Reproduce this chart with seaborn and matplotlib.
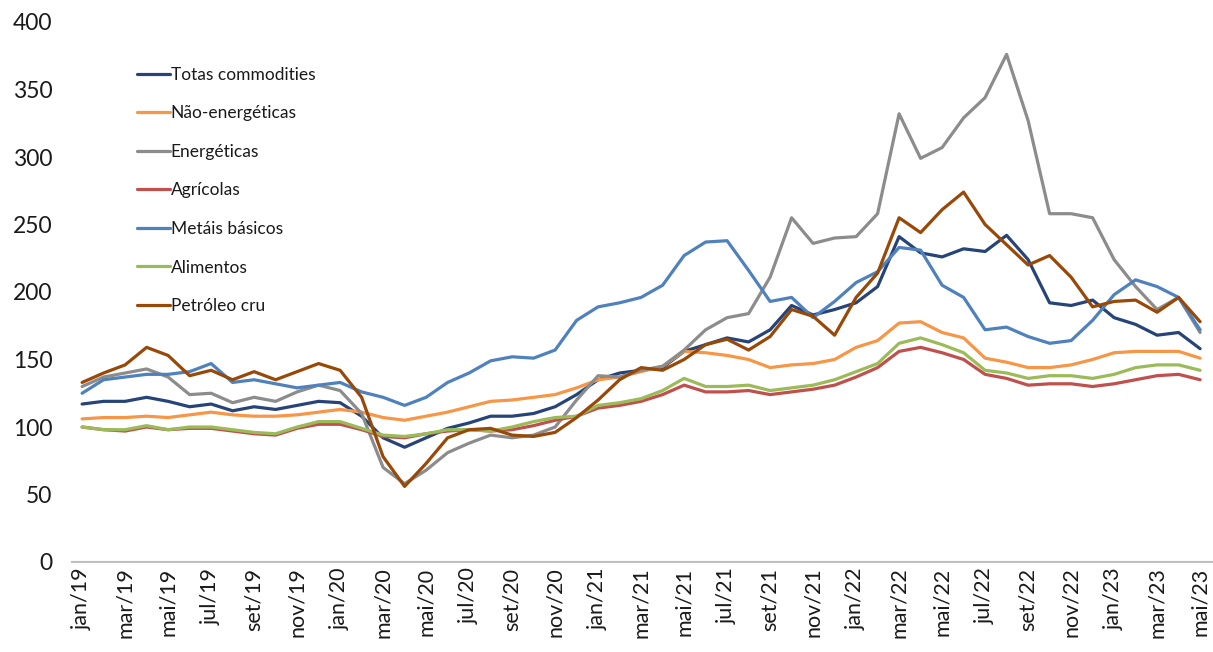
import numpy as np
import pandas as pd
import matplotlib
matplotlib.use("Agg")
import matplotlib.pyplot as plt
import seaborn as sns

# -- Months jan/19 .. mai/23
meses = ["jan", "fev", "mar", "abr", "mai", "jun", "jul", "ago", "set", "out", "nov", "dez"]
datas = [f"{meses[i % 12]}/{19 + i // 12}" for i in range(53)]

totas = [117, 119, 119, 122, 119, 115, 117, 112, 115, 113, 116, 119, 118, 108, 92, 85, 92, 99, 103, 108,
         108, 110, 115, 124, 135, 140, 142, 144, 156, 161, 166, 163, 172, 190, 183, 187, 192, 204, 241, 229,
         226, 232, 230, 242, 224, 192, 190, 194, 181, 176, 168, 170, 158]
nao_energeticas = [106, 107, 107, 108, 107, 109, 111, 109, 108, 108, 109, 111, 113, 111, 107, 105, 108, 111, 115, 119,
                   120, 122, 124, 129, 135, 137, 141, 145, 156, 155, 153, 150, 144, 146, 147, 150, 159, 164, 177, 178,
                   170, 166, 151, 148, 144, 144, 146, 150, 155, 156, 156, 156, 151]
energeticas = [130, 137, 140, 143, 137, 124, 125, 118, 122, 119, 126, 131, 127, 110, 70, 58, 68, 81, 88, 94,
               92, 94, 100, 120, 138, 137, 142, 145, 157, 172, 181, 184, 211, 255, 236, 240, 241, 258, 332, 299,
               307, 329, 344, 376, 327, 258, 258, 255, 224, 204, 187, 196, 170]
agricolas = [100, 98, 97, 100, 98, 99, 99, 97, 95, 94, 99, 102, 102, 98, 93, 92, 95, 97, 98, 97,
             98, 101, 105, 108, 114, 116, 119, 124, 131, 126, 126, 127, 124, 126, 128, 131, 137, 144, 156, 159,
             155, 150, 139, 136, 131, 132, 132, 130, 132, 135, 138, 139, 135]
metais = [125, 135, 137, 139, 139, 141, 147, 133, 135, 132, 129, 131, 133, 126, 122, 116, 122, 133, 140, 149,
          152, 151, 157, 179, 189, 192, 196, 205, 227, 237, 238, 216, 193, 196, 181, 193, 207, 215, 233, 231,
          205, 196, 172, 174, 167, 162, 164, 179, 198, 209, 204, 196, 172]
alimentos = [100, 98, 98, 101, 98, 100, 100, 98, 96, 95, 100, 104, 104, 99, 94, 93, 95, 98, 98, 97,
             100, 104, 107, 108, 116, 118, 121, 127, 136, 130, 130, 131, 127, 129, 131, 135, 141, 147, 162, 166,
             161, 155, 142, 140, 136, 138, 138, 136, 139, 144, 146, 146, 142]
petroleo = [133, 140, 146, 159, 153, 138, 142, 135, 141, 135, 141, 147, 142, 122, 78, 56, 73, 92, 98, 99,
            94, 93, 96, 107, 120, 135, 144, 142, 150, 161, 165, 157, 167, 187, 182, 168, 196, 214, 255, 244,
            261, 274, 250, 235, 220, 227, 211, 189, 193, 194, 185, 196, 178]

nomes = ["Totas commodities", "Não-energéticas", "Energéticas", "Agrícolas",
         "Metáis básicos", "Alimentos", "Petróleo cru"]
cores = ["#264478", "#F79646", "#8C8C8C", "#C0504D", "#4F81BD", "#9BBB59", "#984807"]
series = [totas, nao_energeticas, energeticas, agricolas, metais, alimentos, petroleo]

# -- Long-form table for seaborn
df = pd.concat([pd.DataFrame({"mes": np.arange(len(datas)), "valor": s, "serie": n})
                for n, s in zip(nomes, series)], ignore_index=True)

sns.set_theme(style="white")
plt.rcParams["font.family"] = ["Lato", "DejaVu Sans"]

fig = plt.figure(figsize=(12.13, 6.52), dpi=100)
ax = fig.add_axes([72 / 1213, 1 - 562 / 652, 1141 / 1213, 540 / 652])

sns.lineplot(data=df, x="mes", y="valor", hue="serie", hue_order=nomes,
             palette=dict(zip(nomes, cores)), linewidth=2.3, ax=ax, legend=True)

ax.set_xlim(-0.47, 52.6)
ax.set_ylim(0, 400)
ax.set_yticks(range(0, 401, 50))
ax.set_xticks(range(0, len(datas), 2))
ax.set_xticklabels(datas[::2], rotation=90, fontsize=15.5, color="#1a1a1a")
ax.tick_params(axis="y", labelsize=16.5, labelcolor="#1a1a1a", pad=14, length=0)
ax.tick_params(axis="x", pad=4, length=0)
ax.set_xlabel("")
ax.set_ylabel("")

for s in ["top", "right", "left"]:
    ax.spines[s].set_visible(False)
ax.spines["bottom"].set_color("#BFBFBF")
ax.spines["bottom"].set_linewidth(1.5)

leg = ax.legend(loc="upper left", bbox_to_anchor=(128 / 1213, 1 - 58 / 652),
                bbox_transform=fig.transFigure, frameon=False, fontsize=12.5,
                handlelength=1.9, handletextpad=0.05, labelspacing=1.3, borderpad=0)
for t in leg.get_texts():
    t.set_color("#1a1a1a")

fig.savefig("out.png", dpi=100)
